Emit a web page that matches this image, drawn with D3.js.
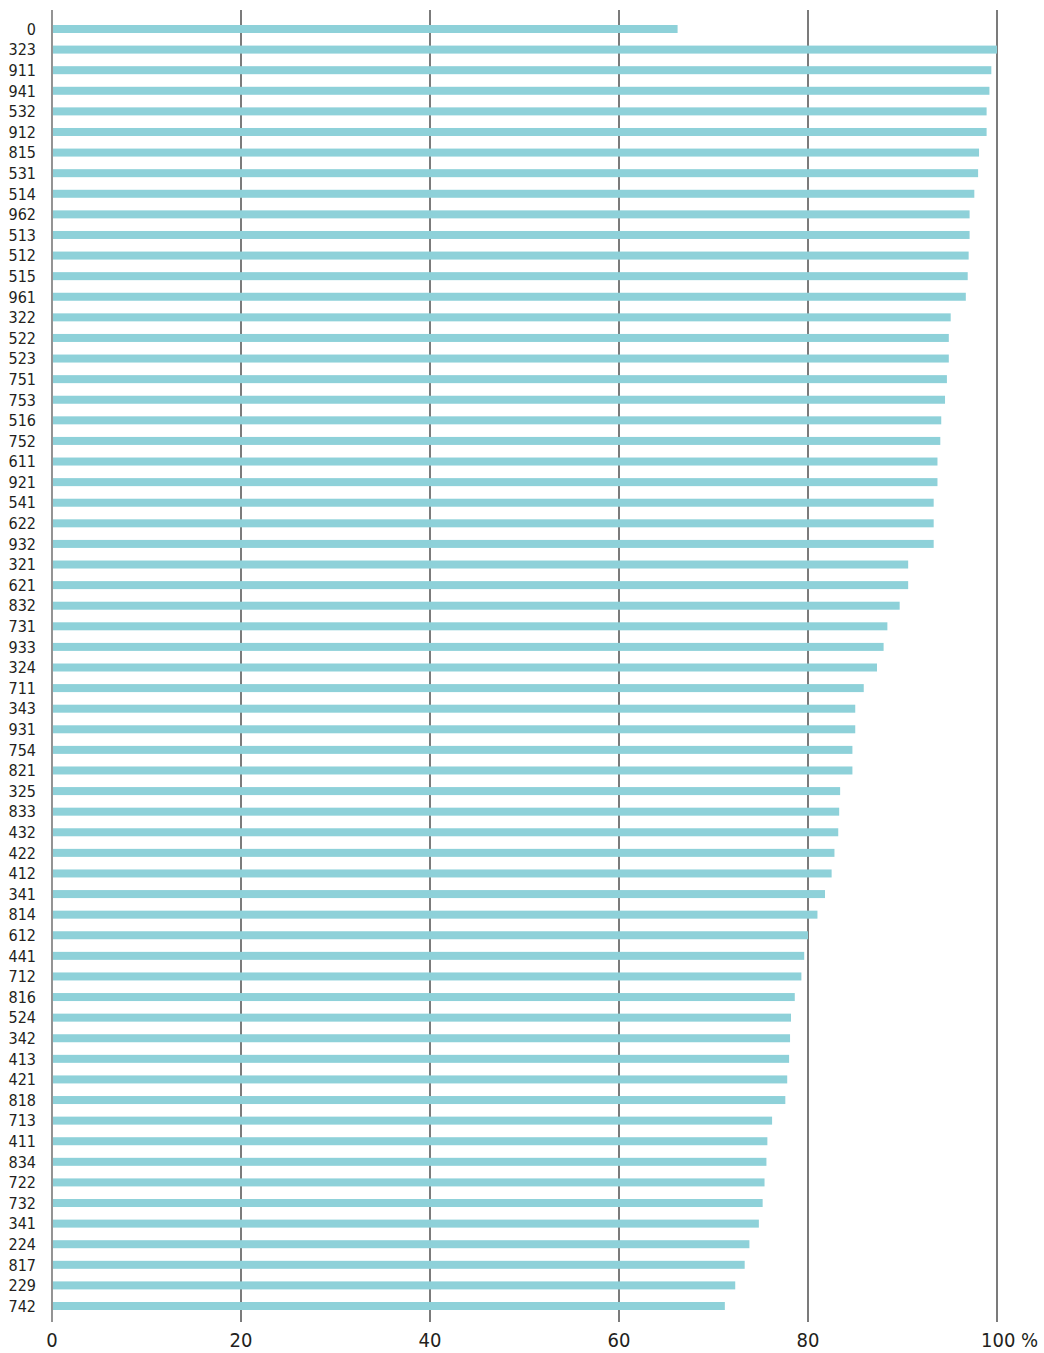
<!DOCTYPE html>
<html lang="en">
<head>
<meta charset="UTF-8">
<script src="https://d3js.org/d3.v7.min.js"></script>
<style>
  body { margin: 0; background: #fff; }
  svg text { font-family: "DejaVu Sans Condensed", "Liberation Sans Narrow", "Noto Sans", sans-serif; font-stretch: condensed; fill: #231f20; }
</style>
</head>
<body>
<svg id="chart" width="1044" height="1353"></svg>
<script>
// categories top to bottom (341 appears twice)
const codes = ["0", "323", "911", "941", "532", "912", "815", "531", "514", "962",
  "513", "512", "515", "961", "322", "522", "523", "751", "753", "516",
  "752", "611", "921", "541", "622", "932", "321", "621", "832", "731",
  "933", "324", "711", "343", "931", "754", "821", "325", "833", "432",
  "422", "412", "341", "814", "612", "441", "712", "816", "524", "342",
  "413", "421", "818", "713", "411", "834", "722", "732", "341", "224",
  "817", "229", "742"];

const shares = [66.2, 100, 99.4, 99.2, 98.9, 98.9, 98.1, 98.0, 97.6, 97.1,
  97.1, 97.0, 96.9, 96.7, 95.1, 94.9, 94.9, 94.7, 94.5, 94.1,
  94.0, 93.7, 93.7, 93.3, 93.3, 93.3, 90.6, 90.6, 89.7, 88.4,
  88.0, 87.3, 85.9, 85.0, 85.0, 84.7, 84.7, 83.4, 83.3, 83.2,
  82.8, 82.5, 81.8, 81.0, 80.0, 79.6, 79.3, 78.6, 78.2, 78.1,
  78.0, 77.8, 77.6, 76.2, 75.7, 75.6, 75.4, 75.2, 74.8, 73.8,
  73.3, 72.3, 71.2];

const xTicks = [0, 20, 40, 60, 80, 100];

const svg = d3.select("#chart");
const x = d3.scaleLinear().domain([0, 100]).range([52, 997]);
const y = d3.scalePoint().domain(d3.range(codes.length)).range([29, 1306]);
const barH = 8;

// grid lines
svg.append("g").selectAll("line")
  .data(xTicks)
  .enter().append("line")
  .attr("x1", d => x(d)).attr("x2", d => x(d))
  .attr("y1", 10).attr("y2", 1322)
  .attr("stroke", "#5a5a5a")
  .attr("stroke-width", d => d === 0 ? 1.3 : 1.6);

// bars
svg.append("g").selectAll("rect")
  .data(shares)
  .enter().append("rect")
  .attr("x", x(0) + 1)
  .attr("y", (d, i) => y(i) - barH / 2)
  .attr("width", d => x(d) - x(0) - 1)
  .attr("height", barH)
  .attr("fill", "#8ed1d9");

// category labels
svg.append("g").selectAll("text")
  .data(codes)
  .enter().append("text")
  .attr("x", 36)
  .attr("y", (d, i) => y(i))
  .attr("dy", "0.36em")
  .attr("text-anchor", "end")
  .attr("font-size", 16)
  .text(d => d);

// x tick labels
svg.append("g").selectAll("text")
  .data(xTicks)
  .enter().append("text")
  .attr("x", d => d === 100 ? x(d) - 16 : x(d))
  .attr("y", 1347)
  .attr("text-anchor", d => d === 100 ? "start" : "middle")
  .attr("font-size", 20)
  .text(d => d === 100 ? "100 %" : d);
</script>
</body>
</html>
